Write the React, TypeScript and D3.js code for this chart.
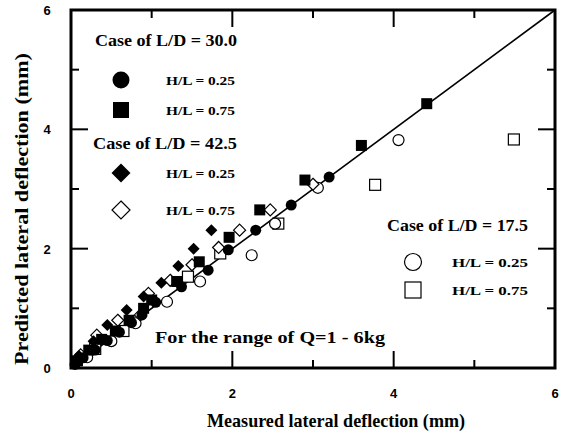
import React from "react";
import * as d3 from "d3";

const W = 569;
const H = 435;

const xTicks = [0, 1, 2, 3, 4, 5, 6];
const xTickLabels = ["0", "2", "4", "6"];
const yTickLabels = ["0", "2", "4", "6"];

// L/D = 30.0, H/L = 0.25 (filled circle)
const ld30h25: [number, number][] = [
  [0.05, 0.06], [0.15, 0.17], [0.3, 0.3], [0.45, 0.46], [0.6, 0.6], [0.75, 0.76], [0.88, 0.89],
  [1.05, 1.1], [1.37, 1.36], [1.7, 1.64], [1.95, 1.98], [2.29, 2.31], [2.73, 2.73], [3.2, 3.2],
];
// L/D = 30.0, H/L = 0.75 (filled square)
const ld30h75: [number, number][] = [
  [0.08, 0.12], [0.22, 0.3], [0.38, 0.48], [0.55, 0.62], [0.72, 0.8], [0.9, 1.0], [1.0, 1.14],
  [1.31, 1.45], [1.59, 1.78], [1.96, 2.19], [2.34, 2.65], [2.9, 3.15], [3.6, 3.73], [4.41, 4.43],
];
// L/D = 42.5, H/L = 0.25 (filled diamond)
const ld42h25: [number, number][] = [
  [0.1, 0.2], [0.28, 0.45], [0.45, 0.72], [0.69, 0.97], [0.9, 1.2], [1.12, 1.43],
  [1.33, 1.71], [1.52, 2.0], [1.74, 2.31],
];
// L/D = 42.5, H/L = 0.75 (open diamond)
const ld42h75: [number, number][] = [
  [0.12, 0.22], [0.32, 0.55], [0.58, 0.8], [0.86, 0.89], [0.96, 1.25], [1.23, 1.47],
  [1.5, 1.73], [1.83, 2.02], [2.09, 2.31], [2.47, 2.65], [3.0, 3.08],
];
// L/D = 17.5, H/L = 0.25 (open circle)
const ld17h25: [number, number][] = [
  [0.2, 0.18], [0.5, 0.45], [0.8, 0.75], [1.19, 1.11], [1.6, 1.45], [2.24, 1.89],
  [2.53, 2.42], [3.06, 3.02], [4.06, 3.82],
];
// L/D = 17.5, H/L = 0.75 (open square)
const ld17h75: [number, number][] = [
  [0.3, 0.32], [0.65, 0.62], [1.45, 1.53], [1.85, 1.92], [2.57, 2.42], [3.77, 3.07], [5.49, 3.83],
];

const serif = "'Liberation Serif', 'Times New Roman', serif";
const sans = "'Liberation Sans', Arial, sans-serif";

function Marker({ kind, x, y, s }: { kind: string; x: number; y: number; s: number }) {
  const h = s / 2;
  switch (kind) {
    case "fcircle":
      return <circle cx={x} cy={y} r={h} fill="#000" />;
    case "ocircle":
      return <circle cx={x} cy={y} r={h} fill="#fff" stroke="#000" strokeWidth={1.2} />;
    case "fsquare":
      return <rect x={x - h} y={y - h} width={s} height={s} fill="#000" />;
    case "osquare":
      return <rect x={x - h} y={y - h} width={s} height={s} fill="#fff" stroke="#000" strokeWidth={1.2} />;
    case "fdiamond":
      return <path d={`M${x},${y - h}L${x + h},${y}L${x},${y + h}L${x - h},${y}Z`} fill="#000" />;
    case "odiamond":
      return (
        <path d={`M${x},${y - h}L${x + h},${y}L${x},${y + h}L${x - h},${y}Z`} fill="#fff" stroke="#000" strokeWidth={1.2} />
      );
  }
  return null;
}

export default function App() {
  const x = d3.scaleLinear().domain([0, 6]).range([71, 555]);
  const y = d3.scaleLinear().domain([0, 6]).range([368, 10]);

  const series = [
    { data: ld17h75, kind: "osquare", s: 11 },
    { data: ld17h25, kind: "ocircle", s: 11 },
    { data: ld42h75, kind: "odiamond", s: 12 },
    { data: ld42h25, kind: "fdiamond", s: 12 },
    { data: ld30h75, kind: "fsquare", s: 11 },
    { data: ld30h25, kind: "fcircle", s: 11 },
  ];

  const line = d3.line<[number, number]>().x((d) => x(d[0])).y((d) => y(d[1]));

  const caseFont = 17;
  const hlFont = 13.5;

  return (
    <svg width={W} height={H} style={{ position: "absolute", left: 0, top: 0, background: "#fff" }}>
      <rect width={W} height={H} fill="#fff" />
      {xTicks.slice(1, -1).map((t) => {
        const len = t % 2 === 0 ? 17 : 8;
        return (
          <g key={"xt" + t}>
            <line x1={x(t)} x2={x(t)} y1={y(0)} y2={y(0) - len} stroke="#000" strokeWidth={2} />
            <line x1={x(t)} x2={x(t)} y1={y(6)} y2={y(6) + len} stroke="#000" strokeWidth={2} />
            <line x1={x(0)} x2={x(0) + len} y1={y(t)} y2={y(t)} stroke="#000" strokeWidth={2} />
            <line x1={x(6)} x2={x(6) - len} y1={y(t)} y2={y(t)} stroke="#000" strokeWidth={2} />
          </g>
        );
      })}
      <path d={line([[0, 0], [6, 6]]) || ""} stroke="#000" strokeWidth={1.6} fill="none" />
      {series.map((se, i) =>
        se.data.map((d, j) => <Marker key={i + "-" + j} kind={se.kind} x={x(d[0])} y={y(d[1])} s={se.s} />)
      )}
      <rect x={x(0)} y={y(6)} width={x(6) - x(0)} height={y(0) - y(6)} fill="none" stroke="#000" strokeWidth={3} />
      {xTickLabels.map((t) => (
        <text key={"xl" + t} x={x(+t)} y={398} textAnchor="middle" fontFamily={sans} fontWeight="bold" fontSize={13}>
          {t}
        </text>
      ))}
      {yTickLabels.map((t) => (
        <text key={"yl" + t} x={47} y={y(+t) + 5} textAnchor="middle" fontFamily={sans} fontWeight="bold" fontSize={13}>
          {t}
        </text>
      ))}
      <text x={207} y={427} fontFamily={serif} fontWeight="bold" fontSize={19} textLength={258} lengthAdjust="spacingAndGlyphs">
        Measured lateral deflection (mm)
      </text>
      <text
        transform="translate(28,209) rotate(-90)"
        textAnchor="middle"
        fontFamily={serif}
        fontWeight="bold"
        fontSize={19}
        textLength={312}
        lengthAdjust="spacingAndGlyphs"
      >
        Predicted lateral deflection (mm)
      </text>
      <text x={95} y={46} fontFamily={serif} fontWeight="bold" fontSize={caseFont} textLength={142} lengthAdjust="spacingAndGlyphs">
        Case of L/D = 30.0
      </text>
      <Marker kind="fcircle" x={121} y={80} s={17} />
      <text x={166} y={85} fontFamily={serif} fontWeight="bold" fontSize={hlFont} textLength={69} lengthAdjust="spacingAndGlyphs">
        H/L = 0.25
      </text>
      <Marker kind="fsquare" x={121} y={110} s={16} />
      <text x={166} y={115} fontFamily={serif} fontWeight="bold" fontSize={hlFont} textLength={69} lengthAdjust="spacingAndGlyphs">
        H/L = 0.75
      </text>
      <text x={93} y={149} fontFamily={serif} fontWeight="bold" fontSize={caseFont} textLength={144} lengthAdjust="spacingAndGlyphs">
        Case of L/D = 42.5
      </text>
      <Marker kind="fdiamond" x={121} y={173} s={19} />
      <text x={166} y={178} fontFamily={serif} fontWeight="bold" fontSize={hlFont} textLength={69} lengthAdjust="spacingAndGlyphs">
        H/L = 0.25
      </text>
      <Marker kind="odiamond" x={121} y={210} s={18} />
      <text x={166} y={215} fontFamily={serif} fontWeight="bold" fontSize={hlFont} textLength={69} lengthAdjust="spacingAndGlyphs">
        H/L = 0.75
      </text>
      <text x={387} y={231} fontFamily={serif} fontWeight="bold" fontSize={caseFont} textLength={141} lengthAdjust="spacingAndGlyphs">
        Case of L/D = 17.5
      </text>
      <Marker kind="ocircle" x={413} y={262} s={17} />
      <text x={452} y={267} fontFamily={serif} fontWeight="bold" fontSize={hlFont} textLength={76} lengthAdjust="spacingAndGlyphs">
        H/L = 0.25
      </text>
      <Marker kind="osquare" x={413} y={290} s={16} />
      <text x={452} y={295} fontFamily={serif} fontWeight="bold" fontSize={hlFont} textLength={76} lengthAdjust="spacingAndGlyphs">
        H/L = 0.75
      </text>
      <text x={155} y={343} fontFamily={serif} fontWeight="bold" fontSize={caseFont} textLength={230} lengthAdjust="spacingAndGlyphs">
        For the range of Q=1 - 6kg
      </text>
    </svg>
  );
}
